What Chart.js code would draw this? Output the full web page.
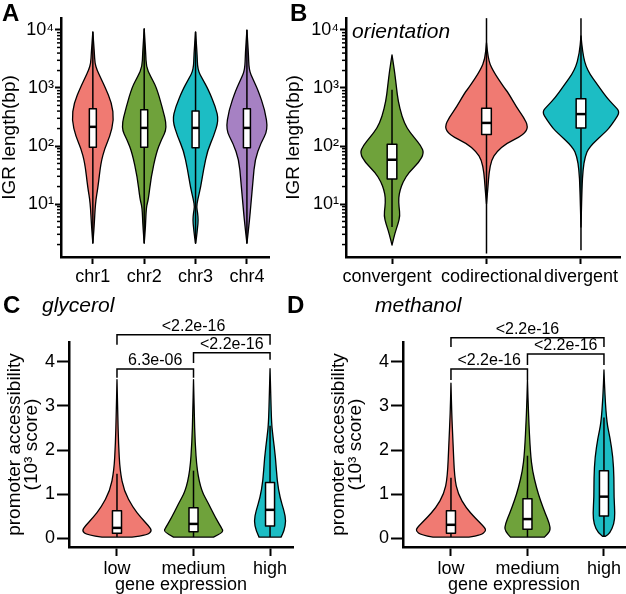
<!DOCTYPE html>
<html>
<head>
<meta charset="utf-8">
<script src="https://cdn.jsdelivr.net/npm/chart.js@4.4.0/dist/chart.umd.min.js"></script>
<style>
  body { margin: 0; background: #fff; }
  canvas { position: absolute; }
</style>
</head>
<body>
<canvas id="panelA" width="313" height="290" style="left:0px;top:0px"></canvas>
<canvas id="panelB" width="346" height="290" style="left:280px;top:0px"></canvas>
<canvas id="panelC" width="313" height="304" style="left:0px;top:290px"></canvas>
<canvas id="panelD" width="346" height="304" style="left:280px;top:290px"></canvas>
<script>
// ---- A: IGR length per chromosome (bp, log) ----
const chromosomes = ['chr1', 'chr2', 'chr3', 'chr4'];
const chr1Len = [9300, 4000, 2700, 2050, 1480, 1050, 550, 280, 145, 93, 51, 19.5, 10.5, 4, 2.1];
const chr1Den = [0, 0.03, 0.04, 0.08, 0.155, 0.235, 0.37, 0.41, 0.33, 0.235, 0.155, 0.1, 0.05, 0.025, 0];
const chr1Box = [2.1, 95, 214, 437, 9300];   // min, q1, median, q3, max
const chr2Len = [10500, 4000, 2300, 1600, 1050, 470, 205, 126, 76, 29.5, 11.7, 8.9, 4, 2.1];
const chr2Den = [0, 0.03, 0.04, 0.12, 0.235, 0.35, 0.45, 0.33, 0.235, 0.135, 0.08, 0.04, 0.025, 0];
const chr2Box = [2.1, 95, 205, 420, 10500];
const chr3Len = [9300, 4000, 2040, 1400, 930, 470, 280, 145, 85, 39, 19.5, 11.7, 8.9, 7.1, 5.2, 4, 2.7, 2.1];
const chr3Den = [0, 0.03, 0.04, 0.14, 0.25, 0.39, 0.45, 0.35, 0.235, 0.155, 0.1, 0.04, 0.02, 0.04, 0.053, 0.04, 0.02, 0];
const chr3Box = [2.1, 93, 205, 400, 9300];
const chr4Len = [10000, 4000, 2040, 1400, 930, 420, 190, 112, 58, 26, 10.5, 5.2, 2.1];
const chr4Den = [0, 0.03, 0.04, 0.12, 0.215, 0.35, 0.41, 0.27, 0.155, 0.12, 0.08, 0.05, 0];
const chr4Box = [2.1, 93, 205, 437, 10000];

// ---- B: IGR length by gene orientation ----
const orientations = ['convergent', 'codirectional', 'divergent'];
const convLen = [3715, 1995, 1000, 617, 316, 200, 141, 100, 76, 52.5, 35.5, 24, 17.4, 12.6, 8.9, 6.3, 4.5, 3.2, 1.95];
const convDen = [0, 0.026, 0.048, 0.063, 0.106, 0.159, 0.233, 0.307, 0.339, 0.286, 0.18, 0.116, 0.085, 0.069, 0.074, 0.085, 0.063, 0.032, 0];
const convBox = [4, 27, 58, 107, 930];
const codirLen = [6030, 3160, 2040, 1050, 813, 468, 316, 214, 155, 112, 79, 58, 34, 20, 10];
const codirDen = [0, 0.016, 0.063, 0.18, 0.233, 0.317, 0.392, 0.444, 0.392, 0.212, 0.106, 0.053, 0.026, 0.016, 0];
const codirBox = [1.4, 158, 250, 447, 16000];
const divLen = [7940, 3980, 2040, 1050, 676, 501, 389, 282, 200, 166, 95.5, 64.6, 38.9, 19.5, 4];
const divDen = [0, 0.016, 0.063, 0.19, 0.275, 0.349, 0.413, 0.36, 0.296, 0.243, 0.085, 0.042, 0.021, 0.011, 0];
const divBox = [1.6, 204, 355, 650, 16000];

const igrMajorTicks = [10, 100, 1000, 10000];

// ---- C / D: promoter accessibility by expression level ----
const expression = ['low', 'medium', 'high'];
const accTicks = [0, 1, 2, 3, 4];

const glyLowAcc = [3.6, 2.8, 2.15, 1.53, 1.07, 0.69, 0.46, 0.27, 0.16, 0.07, 0.02];
const glyLowDen = [0, 0.01, 0.02, 0.039, 0.092, 0.209, 0.314, 0.418, 0.458, 0.392, 0.196];
const glyLowBox = [0.02, 0.11, 0.23, 0.62, 1.46];
const glyMedAcc = [3.6, 2.8, 2.2, 1.53, 1.07, 0.78, 0.46, 0.23, 0.14, 0.02];
const glyMedDen = [0, 0.01, 0.02, 0.046, 0.105, 0.196, 0.288, 0.366, 0.392, 0.261];
const glyMedBox = [0.02, 0.14, 0.32, 0.69, 1.53];
const glyHighAcc = [3.85, 3.2, 2.6, 2.29, 1.83, 1.3, 0.91, 0.62, 0.39, 0.16, 0.02];
const glyHighDen = [0, 0.01, 0.02, 0.039, 0.072, 0.092, 0.131, 0.183, 0.209, 0.183, 0.144];
const glyHighBox = [0.02, 0.27, 0.64, 1.26, 2.55];
const glyTests = [
  { from: 0, to: 2, y: 4.62, legFrom: 4.39, legTo: 4.39, label: '<2.2e-16' },
  { from: 1, to: 2, y: 4.21, legFrom: 3.98, legTo: 4.05, label: '<2.2e-16' },
  { from: 0, to: 1, y: 3.84, legFrom: 3.64, legTo: 3.64, label: '6.3e-06' }
];

const metLowAcc = [3.52, 2.8, 2.22, 1.37, 1.0, 0.69, 0.46, 0.23, 0.16, 0.07, 0.02];
const metLowDen = [0, 0.01, 0.026, 0.046, 0.092, 0.196, 0.314, 0.444, 0.458, 0.392, 0.235];
const metLowBox = [0.02, 0.11, 0.3, 0.62, 1.37];
const metMedAcc = [3.59, 2.8, 1.92, 1.53, 1.14, 0.85, 0.55, 0.32, 0.16, 0.02];
const metMedDen = [0, 0.013, 0.039, 0.065, 0.118, 0.17, 0.235, 0.288, 0.301, 0.222];
const metMedBox = [0.02, 0.2, 0.43, 0.89, 1.87];
const metHighAcc = [3.82, 3.2, 2.6, 2.29, 1.83, 1.37, 0.91, 0.55, 0.32, 0.11, 0.04];
const metHighDen = [0, 0.013, 0.039, 0.078, 0.118, 0.131, 0.131, 0.144, 0.131, 0.078, 0.02];
const metHighBox = [0.04, 0.5, 0.94, 1.53, 2.74];
const metTests = [
  { from: 0, to: 2, y: 4.55, legFrom: 4.34, legTo: 4.34, label: '<2.2e-16' },
  { from: 1, to: 2, y: 4.18, legFrom: 3.93, legTo: 3.93, label: '<2.2e-16' },
  { from: 0, to: 1, y: 3.84, legFrom: 3.59, legTo: 3.59, label: '<2.2e-16' }
];

const RED = '#F07A72', GREEN = '#6FA23B', CYAN = '#1CBDC4', PURPLE = '#A681C3';
const FONT = '"Liberation Sans", Arial, Helvetica, sans-serif';
const SUP = ['\u2070', '\u00B9', '\u00B2', '\u00B3', '\u2074'];

Chart.defaults.font.family = FONT;
Chart.defaults.color = '#000';
Chart.defaults.animation = false;

// smooth open curve through points (quadratic via midpoints)
function smoothTo(ctx, pts, first) {
  if (first) ctx.moveTo(pts[0][0], pts[0][1]);
  else ctx.lineTo(pts[0][0], pts[0][1]);
  for (let i = 1; i < pts.length - 1; i++) {
    const mx = (pts[i][0] + pts[i + 1][0]) / 2;
    const my = (pts[i][1] + pts[i + 1][1]) / 2;
    ctx.quadraticCurveTo(pts[i][0], pts[i][1], mx, my);
  }
  const last = pts[pts.length - 1];
  ctx.lineTo(last[0], last[1]);
}

const violinPlugin = {
  id: 'violins',
  afterDatasetsDraw(chart, args, opts) {
    const ctx = chart.ctx, xs = chart.scales.x, ys = chart.scales.y;
    const unit = xs.getPixelForValue(1) - xs.getPixelForValue(0);
    opts.groups.forEach((g, i) => {
      const cx = xs.getPixelForValue(i);
      const right = g.values.map((v, k) => [cx + g.density[k] * unit, ys.getPixelForValue(v)]);
      const left = right.map(p => [2 * cx - p[0], p[1]]).reverse();
      ctx.save();
      ctx.beginPath();
      smoothTo(ctx, right, true);
      smoothTo(ctx, left, false);
      ctx.closePath();
      ctx.fillStyle = g.color;
      ctx.fill();
      ctx.lineWidth = 1.3;
      ctx.strokeStyle = '#000';
      ctx.lineJoin = 'round';
      ctx.stroke();

      const [lo, q1, med, q3, hi] = g.box;
      ctx.beginPath();
      ctx.lineWidth = 1.5;
      ctx.moveTo(cx, Math.max(ys.getPixelForValue(hi), chart.chartArea.top));
      ctx.lineTo(cx, ys.getPixelForValue(lo));
      ctx.stroke();

      const bw = opts.boxHalf * unit;
      const top = ys.getPixelForValue(q3), bot = ys.getPixelForValue(q1);
      ctx.fillStyle = '#fff';
      ctx.fillRect(cx - bw, top, 2 * bw, bot - top);
      ctx.lineWidth = 1.5;
      ctx.strokeRect(cx - bw, top, 2 * bw, bot - top);
      const my = ys.getPixelForValue(med);
      ctx.beginPath();
      ctx.lineWidth = 2.5;
      ctx.moveTo(cx - bw, my);
      ctx.lineTo(cx + bw, my);
      ctx.stroke();
      ctx.restore();
    });
  }
};

// short minor ticks on the log axes
const minorTickPlugin = {
  id: 'minorTicks',
  afterDraw(chart, args, opts) {
    if (!opts.values) return;
    const ctx = chart.ctx, ys = chart.scales.y, x0 = chart.chartArea.left;
    ctx.save();
    ctx.strokeStyle = '#000';
    ctx.lineWidth = 1.5;
    opts.values.forEach(v => {
      const py = ys.getPixelForValue(v);
      ctx.beginPath();
      ctx.moveTo(x0 - 4, py);
      ctx.lineTo(x0, py);
      ctx.stroke();
    });
    ctx.restore();
  }
};

// significance brackets
const bracketPlugin = {
  id: 'brackets',
  afterDraw(chart, args, opts) {
    if (!opts.items) return;
    const ctx = chart.ctx, xs = chart.scales.x, ys = chart.scales.y;
    ctx.save();
    ctx.strokeStyle = '#000';
    ctx.fillStyle = '#000';
    ctx.lineWidth = 1.5;
    ctx.font = '16px ' + FONT;
    ctx.textAlign = 'center';
    ctx.textBaseline = 'alphabetic';
    opts.items.forEach(b => {
      const x1 = xs.getPixelForValue(b.from), x2 = xs.getPixelForValue(b.to);
      const y = ys.getPixelForValue(b.y);
      ctx.beginPath();
      ctx.moveTo(x1, ys.getPixelForValue(b.legFrom));
      ctx.lineTo(x1, y);
      ctx.lineTo(x2, y);
      ctx.lineTo(x2, ys.getPixelForValue(b.legTo));
      ctx.stroke();
      ctx.fillText(b.label, (x1 + x2) / 2, y - 4);
    });
    ctx.restore();
  }
};

// panel letters and italic subtitles
const panelTextPlugin = {
  id: 'panelText',
  afterDraw(chart, args, opts) {
    const ctx = chart.ctx;
    (opts.items || []).forEach(t => {
      ctx.save();
      ctx.font = t.font;
      ctx.fillStyle = '#000';
      ctx.textAlign = 'left';
      ctx.textBaseline = 'alphabetic';
      ctx.fillText(t.text, t.x, t.y);
      ctx.restore();
    });
  }
};

// nudge: -1 pushes a crowded label left, +1 right (by padding with spaces)
function catAxis(labels, min, max, tickLen, height, title, nudge) {
  const text = labels.map((l, i) => {
    const n = nudge ? nudge[i] : 0;
    return n < 0 ? l + '  ' : n > 0 ? '  ' + l : l;
  });
  return {
    type: 'linear', min: min, max: max,
    afterBuildTicks: s => { s.ticks = labels.map((l, i) => ({ value: i })); },
    afterFit: s => { s.height = height; },
    ticks: { callback: v => text[v], font: { size: 18 }, padding: 2, maxRotation: 0, autoSkip: false },
    grid: { drawOnChartArea: false, tickLength: tickLen, tickWidth: 2, tickColor: '#000' },
    border: { color: '#000', width: 2.5 },
    title: title ? { display: true, text: title, font: { size: 18, lineHeight: 1.0 }, padding: 0 } : { display: false }
  };
}

function igrAxis(width, titlePad) {
  return {
    type: 'logarithmic', min: 1.22, max: 16100,
    afterBuildTicks: s => { s.ticks = igrMajorTicks.map(v => ({ value: v })); },
    afterFit: s => { s.width = width; },
    ticks: { callback: v => '10' + SUP[Math.round(Math.log10(v))], font: { size: 18 }, padding: 1 },
    grid: { drawOnChartArea: false, tickLength: 6, tickWidth: 2, tickColor: '#000' },
    border: { color: '#000', width: 2.5 },
    title: { display: true, text: 'IGR length(bp)', font: { size: 19, lineHeight: 1.05 }, padding: { top: titlePad, bottom: 0 } }
  };
}

function accAxis(width, titlePad) {
  return {
    type: 'linear', min: -0.2045, max: 4.4545,
    afterBuildTicks: s => { s.ticks = accTicks.map(v => ({ value: v })); },
    afterFit: s => { s.width = width; },
    ticks: { callback: v => String(v), font: { size: 18 }, padding: 2 },
    grid: { drawOnChartArea: false, tickLength: 12, tickWidth: 2, tickColor: '#000' },
    border: { color: '#000', width: 2.5 },
    title: { display: true, text: ['promoter accessibility', '(10\u00B3 score)'], font: { size: 19, lineHeight: 0.9 }, padding: { top: titlePad, bottom: 0 } }
  };
}

const igrMinor = [];
[1, 10, 100, 1000].forEach(d => { for (let m = 2; m <= 9; m++) igrMinor.push(m * d); });

const basePlugins = { legend: { display: false }, tooltip: { enabled: false } };

new Chart(document.getElementById('panelA'), {
  type: 'scatter',
  data: { datasets: [{ data: [] }] },
  options: {
    responsive: false,
    layout: { padding: { left: 0, top: 18, right: 44, bottom: 0 } },
    plugins: Object.assign({}, basePlugins, {
      violins: {
        boxHalf: 0.068,
        groups: [
          { values: chr1Len, density: chr1Den, box: chr1Box, color: RED },
          { values: chr2Len, density: chr2Den, box: chr2Box, color: GREEN },
          { values: chr3Len, density: chr3Den, box: chr3Box, color: CYAN },
          { values: chr4Len, density: chr4Den, box: chr4Box, color: PURPLE }
        ]
      },
      minorTicks: { values: igrMinor },
      panelText: { items: [{ text: 'A', x: 2, y: 21, font: 'bold 24px ' + FONT }] }
    }),
    scales: { x: catAxis(chromosomes, -0.62, 3.43, 7, 33), y: igrAxis(61, 0) }
  },
  plugins: [violinPlugin, minorTickPlugin, panelTextPlugin]
});

new Chart(document.getElementById('panelB'), {
  type: 'scatter',
  data: { datasets: [{ data: [] }] },
  options: {
    responsive: false,
    layout: { padding: { left: 0, top: 18, right: 6, bottom: 0 } },
    plugins: Object.assign({}, basePlugins, {
      violins: {
        boxHalf: 0.051,
        groups: [
          { values: convLen, density: convDen, box: convBox, color: GREEN },
          { values: codirLen, density: codirDen, box: codirBox, color: RED },
          { values: divLen, density: divDen, box: divBox, color: CYAN }
        ]
      },
      minorTicks: { values: igrMinor },
      panelText: { items: [
        { text: 'B', x: 10, y: 21, font: 'bold 24px ' + FONT },
        { text: 'orientation', x: 72, y: 38, font: 'italic 21px ' + FONT }
      ] }
    }),
    scales: { x: catAxis(orientations, -0.487, 2.413, 7, 33, null, [-1, 1, 0]), y: igrAxis(66, 4) }
  },
  plugins: [violinPlugin, minorTickPlugin, panelTextPlugin]
});

new Chart(document.getElementById('panelC'), {
  type: 'scatter',
  data: { datasets: [{ data: [] }] },
  options: {
    responsive: false,
    layout: { padding: { left: 0, top: 52, right: 20, bottom: 0 } },
    plugins: Object.assign({}, basePlugins, {
      violins: {
        boxHalf: 0.059,
        groups: [
          { values: glyLowAcc, density: glyLowDen, box: glyLowBox, color: RED },
          { values: glyMedAcc, density: glyMedDen, box: glyMedBox, color: GREEN },
          { values: glyHighAcc, density: glyHighDen, box: glyHighBox, color: CYAN }
        ]
      },
      brackets: { items: glyTests },
      panelText: { items: [
        { text: 'C', x: 3, y: 23, font: 'bold 24px ' + FONT },
        { text: 'glycerol', x: 42, y: 22, font: 'italic 21px ' + FONT }
      ] }
    }),
    scales: { x: catAxis(expression, -0.627, 2.30, 9, 47, 'gene expression'), y: accAxis(69, 6.5) }
  },
  plugins: [violinPlugin, bracketPlugin, panelTextPlugin]
});

new Chart(document.getElementById('panelD'), {
  type: 'scatter',
  data: { datasets: [{ data: [] }] },
  options: {
    responsive: false,
    layout: { padding: { left: 0, top: 52, right: 1, bottom: 0 } },
    plugins: Object.assign({}, basePlugins, {
      violins: {
        boxHalf: 0.059,
        groups: [
          { values: metLowAcc, density: metLowDen, box: metLowBox, color: RED },
          { values: metMedAcc, density: metMedDen, box: metMedBox, color: GREEN },
          { values: metHighAcc, density: metHighDen, box: metHighBox, color: CYAN }
        ]
      },
      brackets: { items: metTests },
      panelText: { items: [
        { text: 'D', x: 7, y: 23, font: 'bold 24px ' + FONT },
        { text: 'methanol', x: 95, y: 22, font: 'italic 21px ' + FONT }
      ] }
    }),
    scales: { x: catAxis(expression, -0.627, 2.275, 9, 47, 'gene expression'), y: accAxis(123, 50.5) }
  },
  plugins: [violinPlugin, bracketPlugin, panelTextPlugin]
});
</script>
</body>
</html>
